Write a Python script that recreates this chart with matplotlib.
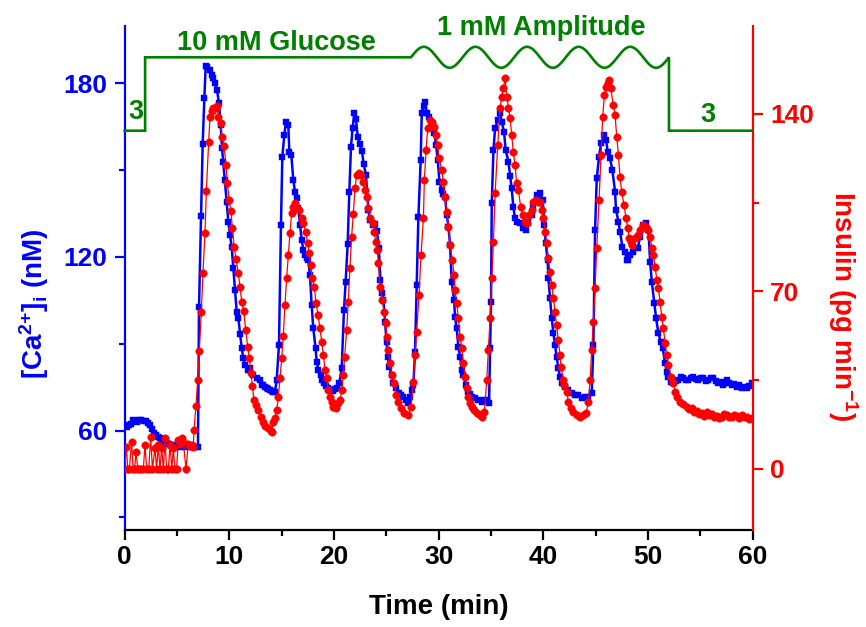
import numpy as np
import matplotlib
matplotlib.use("Agg")
import matplotlib.pyplot as plt
from matplotlib.ticker import FixedLocator

plt.rcParams['font.family'] = ['Liberation Sans', 'DejaVu Sans']
plt.rcParams['font.weight'] = 'bold'
plt.rcParams['mathtext.fontset'] = 'custom'
plt.rcParams['mathtext.rm'] = 'Liberation Sans:bold'
plt.rcParams['mathtext.it'] = 'Liberation Sans:bold'
plt.rcParams['mathtext.bf'] = 'Liberation Sans:bold'

# ---------------- data ----------------
ca_time = [0.0, 0.2, 0.4, 0.6, 0.8, 1.0, 1.2, 1.4, 1.6, 1.8, 2.0, 2.2, 2.4, 2.6, 2.8, 3.0, 3.2, 3.4, 3.6, 3.8,
           4.0, 4.2, 4.4, 4.6, 4.8, 5.0, 5.2, 5.4, 5.6, 5.8, 6.0, 6.2, 6.4, 6.6, 6.8, 7.0,
           7.1, 7.29, 7.45, 7.61, 7.74, 7.9, 8.15, 8.31, 8.47, 8.63, 8.82, 9.01, 9.17, 9.3, 9.42, 9.58, 9.74, 9.9,
           10.06, 10.22, 10.38, 10.54, 10.7, 10.86, 11.02, 11.18, 11.34, 11.5, 11.81, 12.0, 12.3, 12.6, 12.93, 13.08,
           13.24, 13.4, 13.56, 13.72, 13.9, 14.04, 14.2, 14.36, 14.52, 14.74, 14.93, 15.06, 15.25, 15.41, 15.63, 15.73,
           15.92, 16.11, 16.27, 16.43, 16.59, 16.75, 16.91, 17.07, 17.22, 17.38, 17.54, 17.7, 17.86, 18.02, 18.24, 18.34,
           18.5, 18.72, 18.88, 19.04, 19.25, 19.45, 19.65, 19.87, 20.05, 20.25, 20.5, 20.73, 20.95, 21.11, 21.3, 21.46,
           21.62, 21.78, 21.94, 22.1, 22.26, 22.48, 22.67, 22.83, 23.05, 23.28, 23.43, 23.69, 23.91, 24.1, 24.28, 24.43,
           24.62, 24.72, 24.88, 25.03, 25.13, 25.29, 25.51, 25.67, 25.93, 26.21, 26.42, 26.63, 26.85, 27.04, 27.25, 27.42,
           27.58, 27.74, 27.9, 28.06, 28.28, 28.38, 28.55, 28.7, 28.86, 29.11, 29.4, 29.59, 29.75, 29.91, 30.07, 30.29,
           30.45, 30.61, 30.77, 30.93, 31.09, 31.24, 31.47, 31.56, 31.72, 31.88, 32.04, 32.2, 32.36, 32.58, 32.84, 33.0,
           33.16, 33.47, 33.8, 34.11, 34.35, 34.59, 34.81, 34.91, 35.0, 35.07, 35.23, 35.39, 35.64, 35.86, 36.02, 36.24,
           36.4, 36.66, 36.82, 36.97, 37.13, 37.29, 37.51, 37.77, 38.09, 38.31, 38.57, 38.89, 39.04, 39.36, 39.68, 39.94,
           40.1, 40.22, 40.41, 40.48, 40.64, 40.8, 40.96, 41.11, 41.27, 41.43, 41.59, 41.82, 42.07, 42.39, 42.71, 43.03,
           43.34, 43.66, 43.98, 44.3, 44.62, 44.78, 44.94, 45.1, 45.32, 45.51, 45.8, 45.99, 46.15, 46.37, 46.59, 46.85,
           46.94, 47.17, 47.32, 47.55, 47.8, 47.96, 48.06, 48.29, 48.61, 49.02, 49.24, 49.56, 49.82, 50.04, 50.2, 50.36,
           50.61, 50.77, 50.99, 51.22, 51.41, 51.63, 51.79, 51.95, 52.2, 52.43, 52.65, 52.9, 53.15, 53.38, 53.6, 53.86,
           54.1, 54.34, 54.58, 54.82, 55.05, 55.29, 55.53, 55.77, 56.0, 56.25, 56.5, 56.73, 56.97, 57.2, 57.4, 57.52,
           57.76, 58.0, 58.24, 58.48, 58.72, 58.96, 59.2, 59.43, 59.67, 59.91]
ca_values = [61.5, 61.4, 61.9, 62.2, 63.7, 63.4, 63.1, 63.5, 63.7, 63.2, 63.4, 62.7, 62.0, 60.5, 59.3, 58.6, 57.8, 57.3, 56.5, 56.0,
             55.6, 55.4, 55.0, 55.2, 54.6, 54.5, 54.8, 54.5, 54.7, 54.5, 54.7, 54.5, 54.6, 54.4, 54.5, 54.5,
             102.6, 134.1, 159.0, 174.7, 186.0, 185.7, 184.5, 182.8, 181.6, 179.9, 177.6, 173.0, 165.5, 157.5, 152.6, 146.5, 139.1, 132.2,
             127.5, 123.5, 116.0, 108.5, 101.1, 98.8, 93.5, 88.4, 85.0, 82.7, 80.9, 81.5, 79.2, 78.0, 77.5, 75.7,
             75.7, 75.0, 74.6, 74.5, 74.0, 73.7, 73.4, 73.4, 77.5, 89.6, 131.0, 154.6, 162.1, 166.7, 165.5, 156.3,
             155.2, 146.5, 142.5, 140.2, 136.8, 131.0, 125.8, 122.4, 120.6, 119.5, 118.9, 113.7, 103.4, 95.3, 88.4, 83.8,
             80.9, 79.2, 77.5, 76.3, 75.5, 74.6, 74.0, 73.7, 74.2, 74.6, 76.3, 81.5, 101.6, 111.4, 124.3, 142.3,
             158.0, 164.6, 169.6, 167.6, 161.5, 158.9, 156.5, 152.0, 148.3, 136.2, 132.7, 131.0, 131.3, 129.0, 122.9, 112.0,
             107.4, 105.1, 97.6, 90.7, 85.5, 82.1, 79.2, 76.3, 74.6, 72.9, 72.3, 71.7, 70.5, 69.4, 71.5, 74.0,
             75.7, 87.3, 110.3, 133.9, 153.4, 169.6, 172.0, 173.6, 169.6, 168.4, 166.1, 162.7, 158.6, 153.4, 146.0, 143.1,
             141.6, 140.8, 134.5, 130.4, 124.1, 111.4, 105.1, 99.3, 95.3, 89.0, 85.5, 80.9, 79.2, 75.7, 73.4, 72.5,
             71.7, 71.1, 70.5, 70.0, 70.5, 70.6, 69.4, 88.4, 104.5, 138.5, 156.9, 164.4, 167.3, 169.6, 166.7, 163.2,
             156.9, 152.9, 148.0, 143.7, 137.3, 133.3, 132.2, 131.6, 129.9, 129.3, 131.6, 134.4, 137.3, 141.4, 141.9, 139.6,
             131.0, 124.7, 118.9, 112.6, 105.7, 98.8, 93.6, 89.6, 85.5, 81.5, 78.6, 76.3, 75.2, 74.0, 72.9, 72.3,
             72.3, 71.1, 71.7, 71.7, 72.9, 89.6, 129.3, 147.1, 154.6, 159.2, 162.1, 160.3, 156.3, 154.0, 150.0, 142.5,
             136.2, 132.2, 128.7, 123.5, 121.8, 118.9, 118.9, 120.6, 121.8, 122.9, 127.0, 131.0, 131.6, 129.3, 118.3, 111.4,
             103.9, 98.8, 93.6, 90.7, 88.4, 83.2, 80.4, 78.6, 76.9, 76.3, 77.2, 77.5, 78.4, 78.0, 77.6, 77.5,
             78.2, 78.6, 77.9, 77.5, 78.3, 78.0, 77.2, 77.5, 78.1, 78.0, 77.0, 76.3, 76.8, 75.7, 76.5, 77.5,
             76.4, 75.7, 76.0, 75.2, 75.8, 74.6, 75.0, 74.6, 75.4, 76.3]

ins_time = [0.0, 0.15, 0.3, 0.45, 0.66, 0.8, 0.95, 1.08, 1.25, 1.4, 1.6, 1.78, 1.94, 2.1, 2.3, 2.48, 2.65, 2.89, 3.05, 3.21,
            3.37, 3.53, 3.7, 3.85, 4.0, 4.17, 4.33, 4.5, 4.65, 4.8, 4.96, 5.12, 5.28, 5.44, 5.6, 5.86, 6.08, 6.25, 6.4, 6.55,
            6.62, 6.81, 6.97, 7.13, 7.32, 7.48, 7.67, 7.8, 8.02, 8.15, 8.31, 8.47, 8.69, 8.82, 8.95, 9.17, 9.3, 9.49, 9.68, 9.81,
            9.97, 10.16, 10.28, 10.47, 10.63, 10.86, 11.02, 11.18, 11.37, 11.56, 11.75, 11.91, 12.07, 12.2, 12.35, 12.54, 12.77, 12.99, 13.24, 13.45,
            13.72, 13.95, 14.04, 14.2, 14.36, 14.52, 14.68, 14.84, 15.0, 15.15, 15.31, 15.47, 15.63, 15.79, 15.95, 16.11, 16.27, 16.43, 16.68, 16.91,
            17.07, 17.29, 17.48, 17.61, 17.77, 17.93, 18.12, 18.28, 18.47, 18.66, 18.82, 18.98, 19.14, 19.29, 19.45, 19.61, 19.77, 19.93, 20.15, 20.41,
            20.57, 20.76, 20.89, 21.01, 21.21, 21.36, 21.52, 21.68, 21.84, 22.0, 22.16, 22.38, 22.57, 22.8, 22.96, 23.12, 23.28, 23.43, 23.69, 23.85,
            23.97, 24.14, 24.23, 24.39, 24.62, 24.78, 24.94, 25.03, 25.19, 25.35, 25.58, 25.77, 25.93, 26.15, 26.4, 26.72, 27.04, 27.36, 27.58, 27.74,
            27.9, 28.12, 28.31, 28.54, 28.63, 28.79, 28.95, 29.17, 29.4, 29.59, 29.72, 29.91, 30.03, 30.29, 30.45, 30.61, 30.77, 30.93, 31.09, 31.31,
            31.47, 31.56, 31.72, 31.88, 32.04, 32.2, 32.36, 32.52, 32.68, 32.84, 33.0, 33.16, 33.41, 33.63, 33.95, 34.17, 34.37, 34.59, 34.75, 34.91,
            35.07, 35.23, 35.39, 35.64, 35.86, 36.02, 36.18, 36.34, 36.5, 36.66, 36.82, 36.97, 37.13, 37.29, 37.45, 37.61, 37.83, 38.03, 38.25, 38.41,
            38.63, 38.89, 39.04, 39.27, 39.52, 39.68, 39.84, 40.0, 40.16, 40.32, 40.48, 40.64, 40.8, 40.96, 41.11, 41.27, 41.43, 41.59, 41.69, 41.91,
            42.01, 42.23, 42.39, 42.61, 42.87, 43.19, 43.5, 43.82, 44.08, 44.3, 44.46, 44.62, 44.78, 44.94, 45.1, 45.32, 45.51, 45.67, 45.83, 45.99,
            46.15, 46.3, 46.43, 46.69, 46.85, 47.01, 47.17, 47.32, 47.48, 47.71, 47.9, 48.06, 48.22, 48.4, 48.51, 48.77, 49.02, 49.24, 49.56, 49.78,
            49.98, 50.2, 50.36, 50.52, 50.68, 50.84, 50.99, 51.15, 51.31, 51.47, 51.63, 51.79, 51.95, 52.2, 52.43, 52.59, 52.75, 53.06, 53.38, 53.7,
            53.95, 54.18, 54.42, 54.66, 54.9, 55.13, 55.37, 55.61, 55.85, 56.09, 56.33, 56.57, 56.81, 57.05, 57.28, 57.52, 57.76, 58.0, 58.24, 58.48,
            58.72, 58.96, 59.2, 59.43, 59.67, 59.91]
ins_values = [0, 8.7, 0, 0, 10.7, 0, 0, 6.8, 0, 0, 0, 0, 9.4, 0, 0, 12.7, 0, 8.1, 0, 9.4,
              0, 8.1, 0, 12.0, 0, 0, 9.4, 0, 8.1, 0, 0, 11.4, 10.0, 12.0, 10.5, 0, 10.0, 9.0, 9.4, 8.5,
              15.3, 24.8, 35.0, 46.5, 62.0, 77.4, 93.1, 109.6, 128.8, 138.9, 141.1, 142.2, 142.4, 143.0, 138.9, 136.3, 131.0, 127.4, 119.8, 112.6,
              106.0, 101.7, 94.8, 87.4, 82.8, 77.1, 71.6, 65.9, 62.2, 54.8, 48.2, 43.6, 37.7, 32.8, 27.2, 25.2, 23.2, 20.6, 18.6, 17.0,
              16.0, 15.0, 14.6, 18.5, 20.2, 23.2, 28.2, 35.7, 43.6, 52.4, 64.6, 75.1, 84.3, 93.1, 100.8, 103.4, 104.7, 102.7, 102.1, 98.8,
              96.8, 93.5, 88.9, 85.0, 80.4, 75.1, 71.8, 65.3, 60.7, 55.4, 50.2, 44.9, 39.0, 35.7, 31.1, 28.5, 26.5, 24.5, 23.9, 25.8,
              27.2, 31.1, 37.0, 44.2, 54.8, 65.9, 79.3, 91.6, 100.4, 110.6, 115.9, 116.5, 115.9, 113.2, 109.9, 107.3, 102.7, 98.8, 96.8, 93.5,
              89.6, 86.3, 81.0, 71.8, 66.6, 62.0, 57.4, 52.1, 46.9, 41.6, 37.0, 33.7, 29.1, 26.5, 23.9, 21.9, 21.2, 24.5, 34.4, 44.9,
              54.1, 68.6, 84.3, 98.8, 113.9, 125.7, 134.3, 137.6, 136.9, 134.9, 131.6, 127.7, 122.4, 117.8, 113.2, 107.3, 101.4, 95.5, 88.3, 82.4,
              76.4, 70.5, 65.3, 59.4, 52.1, 47.5, 41.6, 36.4, 31.8, 28.5, 25.8, 24.5, 23.2, 21.9, 21.2, 20.6, 22.6, 35.0, 46.9, 59.4,
              75.4, 89.6, 108.6, 127.7, 142.2, 146.8, 150.0, 154.0, 146.8, 142.4, 138.2, 131.6, 125.0, 119.8, 112.6, 109.9, 103.4, 100.1, 97.5, 96.8,
              100.1, 102.0, 105.4, 106.0, 105.4, 105.4, 102.1, 98.8, 93.5, 88.9, 83.0, 77.8, 72.5, 67.2, 62.0, 56.7, 50.8, 44.9, 40.3, 35.0,
              33.1, 30.4, 26.5, 23.9, 22.6, 21.2, 20.6, 21.2, 21.9, 26.5, 35.0, 46.9, 58.0, 71.2, 87.0, 106.0, 123.8, 138.9, 147.4, 150.7,
              152.0, 153.3, 150.0, 143.5, 139.5, 131.0, 123.8, 115.2, 109.3, 104.0, 98.8, 94.8, 90.9, 89.5, 88.3, 90.9, 92.2, 94.2, 96.2, 95.5,
              94.2, 91.6, 87.0, 84.3, 79.7, 74.5, 71.2, 65.9, 60.0, 55.4, 49.5, 44.9, 40.9, 36.4, 33.7, 30.4, 28.5, 26.5, 25.4, 24.5,
              23.8, 23.9, 22.6, 22.8, 21.5, 21.9, 21.0, 22.3, 21.4, 21.5, 20.5, 21.0, 20.2, 20.6, 21.5, 21.2, 20.3, 20.6, 21.4, 21.0,
              20.0, 21.2, 20.5, 20.6, 19.8, 20.2]

# glucose protocol (mM)
glucose_low = 3
glucose_high = 10
glucose_amp = 1
glucose_step_up = 1.95
glucose_osc_start = 27.35
glucose_osc_end = 52.0
glucose_cycles = 5

# ---------------- figure ----------------
W, H = 866, 627
fig = plt.figure(figsize=(W / 100, H / 100), dpi=100)
x0, x1 = 124.7, 752.7
ytop, ybot = 25.7, 530.0
ax = fig.add_axes([x0 / W, 1 - ybot / H, (x1 - x0) / W, (ybot - ytop) / H])
ax2 = ax.twinx()
ax3 = ax.twinx()

BLUE = '#0000FF'
RED = '#FF0000'
GREEN = '#008000'

ax.plot(ca_time, ca_values, color=BLUE, lw=1.8, marker='s', ms=5.0, mec=BLUE, mew=0.3, zorder=3)
ax2.plot(ins_time, ins_values, color=RED, lw=0.9, marker='o', ms=5.4, mec=RED, mew=0.3, zorder=3)

# glucose trace
t_osc = np.linspace(glucose_osc_start, glucose_osc_end, 400)
g_osc = glucose_high + glucose_amp * np.sin(2 * np.pi * glucose_cycles * (t_osc - glucose_osc_start) /
                                            (glucose_osc_end - glucose_osc_start))
g_t = np.concatenate([[0, glucose_step_up, glucose_step_up], t_osc, [glucose_osc_end, 60]])
g_v = np.concatenate([[glucose_low, glucose_low, glucose_high], g_osc, [glucose_low, glucose_low]])
ax3.plot(g_t, g_v, color=GREEN, lw=1.9, solid_joinstyle='miter', clip_on=False)

# y-limits chosen so the pixel positions of ticks match the original
ca_lim = (60 - (ybot - 430.6) / 2.896, 180 + (83.1 - ytop) / 2.896)
ins_lim = (0 - (ybot - 468.9) / 2.536, 140 + (113.8 - ytop) / 2.536)
glu_lim = (10 - (ybot - 57.3) / 10.486, 10 + (57.3 - ytop) / 10.486)
ax3.set_ylim(*glu_lim)
ax3.set_axis_off()

ax.set_xlim(0, 60)
ax.set_ylim(*ca_lim)
ax2.set_ylim(*ins_lim)

# spines
for s in ['top', 'right']:
    ax.spines[s].set_visible(False)
ax.spines['left'].set_color(BLUE)
ax.spines['left'].set_linewidth(1.6)
ax.spines['bottom'].set_color('black')
ax.spines['bottom'].set_linewidth(1.6)
for s in ['top', 'left', 'bottom']:
    ax2.spines[s].set_visible(False)
ax2.spines['right'].set_color(RED)
ax2.spines['right'].set_linewidth(1.6)

ax.xaxis.set_major_locator(FixedLocator([0, 10, 20, 30, 40, 50, 60]))
ax.xaxis.set_minor_locator(FixedLocator([5, 15, 25, 35, 45, 55]))
ax.yaxis.set_major_locator(FixedLocator([60, 120, 180]))
ax.yaxis.set_minor_locator(FixedLocator([30, 90, 150]))
ax2.yaxis.set_major_locator(FixedLocator([0, 70, 140]))
ax2.yaxis.set_minor_locator(FixedLocator([35, 105]))

ax.tick_params(axis='x', which='major', direction='out', length=7.5, width=1.6, colors='black', labelsize=19, pad=3)
ax.tick_params(axis='x', which='minor', direction='out', length=4.5, width=1.6, colors='black')
ax.tick_params(axis='y', which='major', direction='out', length=7.5, width=1.6, colors=BLUE, labelsize=19, pad=5)
ax.tick_params(axis='y', which='minor', direction='out', length=4.5, width=1.6, colors=BLUE)
ax2.tick_params(axis='y', which='major', direction='out', length=7.5, width=1.6, colors=RED, labelsize=19, pad=5)
ax2.tick_params(axis='y', which='minor', direction='out', length=4.5, width=1.6, colors=RED)
for lbl in ax.get_xticklabels() + ax.get_yticklabels() + ax2.get_yticklabels():
    lbl.set_fontweight('bold')

fig.text(438.7 / W, 1 - 607 / H, 'Time (min)', fontsize=20, fontweight='bold', ha='center', va='center')

fig.text(34 / W, 1 - 304 / H, r'[Ca$^{2{+}}$]$_{i}$ (nM)', rotation=90, color=BLUE, fontsize=20,
         fontweight='bold', ha='center', va='center')
fig.text(843 / W, 1 - 306 / H, r'Insulin (pg min$^{-1}$)', rotation=270, color=RED, fontsize=20,
         fontweight='bold', ha='center', va='center')

# annotations
fig.text(276.7 / W, 1 - 50 / H, '10 mM Glucose', color=GREEN, fontsize=19.5, fontweight='bold',
         ha='center', va='baseline')
fig.text(541.7 / W, 1 - 35 / H, '1 mM Amplitude', color=GREEN, fontsize=19.5, fontweight='bold',
         ha='center', va='baseline')
fig.text(135.5 / W, 1 - 119.3 / H, '3', color=GREEN, fontsize=19.5, fontweight='bold',
         ha='center', va='baseline')
fig.text(708.3 / W, 1 - 121.7 / H, '3', color=GREEN, fontsize=19.5, fontweight='bold',
         ha='center', va='baseline')

fig.savefig('out.png', dpi=100)
